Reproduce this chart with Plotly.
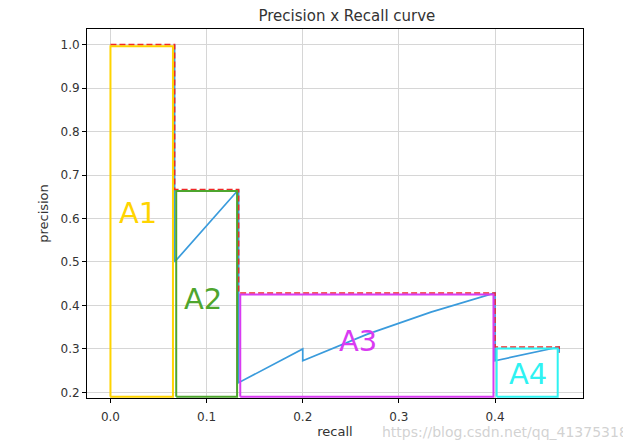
import plotly.graph_objects as go

# precision / recall of the ranked detections
recall = [0.0667, 0.0667, 0.1333, 0.1333, 0.1333, 0.1333, 0.1333, 0.1333, 0.1333,
          0.2, 0.2, 0.2667, 0.3333, 0.4, 0.4, 0.4, 0.4, 0.4, 0.4, 0.4, 0.4, 0.4,
          0.4667, 0.4667]
precision = [1.0, 0.5, 0.6667, 0.5, 0.4, 0.3333, 0.2857, 0.25, 0.2222,
             0.3, 0.2727, 0.3333, 0.3846, 0.4286, 0.4, 0.375, 0.3529, 0.3333, 0.3158,
             0.3, 0.2857, 0.2727, 0.3043, 0.2917]

# interpolated precision (every point)
interp_recall = [0.0, 0.0667, 0.0667, 0.1333, 0.1333, 0.4, 0.4, 0.4667, 0.4667]
interp_precision = [1.0, 1.0, 0.6667, 0.6667, 0.4286, 0.4286, 0.3043, 0.3043, 0.2917]

# area boxes A1..A4 (hand drawn, sit just inside the dashed curve)
area_names = ["A1", "A2", "A3", "A4"]
area_x0 = [0.0, 0.0684, 0.1350, 0.4017]
area_x1 = [0.0650, 0.1317, 0.3984, 0.4652]
area_y0 = [0.19, 0.19, 0.19, 0.19]
area_y1 = [0.9965, 0.6632, 0.4252, 0.3010]
area_colors = ["#FFD400", "#4EA52E", "#D93BF2", "#2FF2F2"]
label_x = [0.0285, 0.096, 0.2575, 0.434]
label_y = [0.612, 0.415, 0.318, 0.242]

fig = go.Figure()

fig.add_trace(go.Scatter(
    x=recall, y=precision, mode="lines",
    line=dict(color="#3A9BDC", width=1.7),
))

fig.add_trace(go.Scatter(
    x=interp_recall, y=interp_precision, mode="lines",
    line=dict(color="#F02828", width=1.6, dash="6px,3px"),
))

for x0, x1, y0, y1, c in zip(area_x0, area_x1, area_y0, area_y1, area_colors):
    fig.add_trace(go.Scatter(
        x=[x0, x1, x1, x0, x0], y=[y0, y0, y1, y1, y0], mode="lines",
        line=dict(color=c, width=2),
    ))

for name, lx, ly, c in zip(area_names, label_x, label_y, area_colors):
    fig.add_annotation(x=lx, y=ly, text=name, showarrow=False,
                       font=dict(family="DejaVu Sans", size=29, color=c))

# faint watermark, bottom right
fig.add_annotation(x=1.0, y=0.0, xref="paper", yref="paper",
                   xanchor="right", yanchor="bottom",
                   text="https://blog.csdn.net/qq_41375318", showarrow=False,
                   xshift=47, yshift=-44,
                   font=dict(family="DejaVu Sans", size=14, color="rgba(195,195,195,0.75)"))

axis_common = dict(
    showline=True, mirror=True, linecolor="black", linewidth=1,
    ticks="outside", ticklen=4, tickcolor="black",
    showgrid=True, gridcolor="#d6d6d6", gridwidth=1, zeroline=False,
    tickfont=dict(family="DejaVu Sans", size=12, color="#333333"),
    tickformat=".1f", automargin=False,
)

# page body adds an 8px offset, so the figure is 8px smaller than the window
fig.update_layout(
    width=623, height=434,
    plot_bgcolor="white", paper_bgcolor="white",
    showlegend=False,
    margin=dict(l=79, r=48, t=21, b=44),
    font=dict(family="DejaVu Sans", color="#333333"),
    title=dict(text="Precision x Recall curve", x=0.524, xref="paper", xanchor="center",
               y=0.982, yanchor="middle", automargin=False,
               font=dict(family="DejaVu Sans", size=15, color="#333333")),
    xaxis=dict(axis_common, range=[-0.0244, 0.4915],
               tickvals=[0.0, 0.1, 0.2, 0.3, 0.4], ticklabelstandoff=4,
               title=dict(text="recall", standoff=3,
                          font=dict(family="DejaVu Sans", size=13, color="#333333"))),
    yaxis=dict(axis_common, range=[0.187, 1.036],
               tickvals=[0.2, 0.3, 0.4, 0.5, 0.6, 0.7, 0.8, 0.9, 1.0],
               title=dict(text="precision", standoff=8,
                          font=dict(family="DejaVu Sans", size=13, color="#333333"))),
)

fig.write_html("out.html")
